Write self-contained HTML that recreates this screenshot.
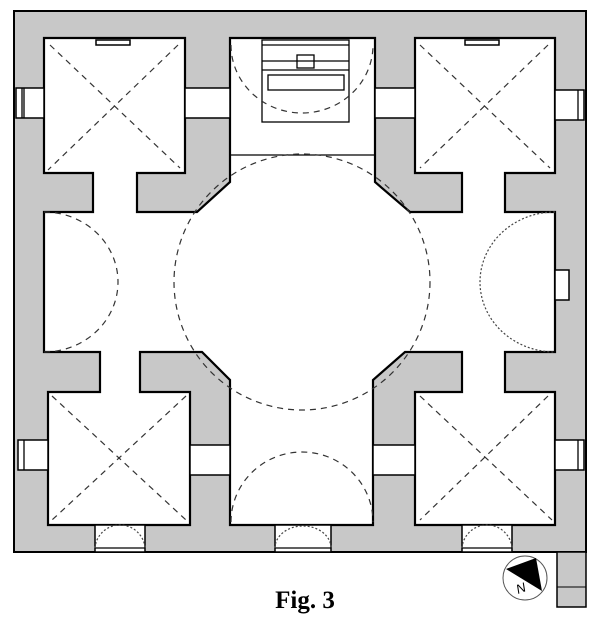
<!DOCTYPE html>
<html><head><style>body{margin:0;background:#fff}svg{display:block}</style></head><body>
<svg width="600" height="624" viewBox="0 0 600 624" xmlns="http://www.w3.org/2000/svg">
<rect width="600" height="624" fill="#fff"/>
<!-- walls -->
<rect x="14" y="11" width="572" height="541" fill="#c8c8c8" stroke="#000" stroke-width="2"/>
<rect x="557" y="552" width="29" height="55" fill="#c8c8c8" stroke="#000" stroke-width="1.5"/>
<line x1="557" y1="587" x2="586" y2="587" stroke="#000"/>
<g fill="#fff" stroke="#000" stroke-width="2.2" stroke-linejoin="miter">
<!-- main white shape -->
<path d="M44,38 H185 V173 H137 V212 H197 L230,182 V38 H375 V182 L410,212 H462 V173 H415 V38 H555 V173 H505 V212 H555 V352 H505 V392 H555 V525 H415 V392 H462 V352 H405 L373,380 V525 H230 V380 L202,352 H140 V392 H190 V525 H48 V392 H100 V352 H44 V212 H93 V173 H44 Z"/>
</g>
<g fill="#fff" stroke="#000" stroke-width="1.5">
<!-- windows -->
<rect x="185" y="88" width="45" height="30"/>
<rect x="375" y="88" width="40" height="30"/>
<rect x="190" y="445" width="40" height="30"/>
<rect x="373" y="445" width="42" height="30"/>
<rect x="16" y="88" width="28" height="30"/>
<rect x="555" y="90" width="29" height="30"/>
<rect x="18" y="440" width="30" height="30"/>
<rect x="555" y="440" width="29" height="30"/>
<rect x="555" y="270" width="14" height="30"/>
<rect x="95" y="525" width="50" height="27"/>
<rect x="275" y="525" width="56" height="27"/>
<rect x="462" y="525" width="50" height="27"/>
<rect x="96" y="40" width="34" height="5"/>
<rect x="465" y="40" width="34" height="5"/>
</g>
<g stroke="#000" stroke-width="1.3" fill="none">
<line x1="22" y1="88" x2="22" y2="118"/><line x1="24" y1="88" x2="24" y2="118"/>
<line x1="578" y1="90" x2="578" y2="120"/>
<line x1="24" y1="440" x2="24" y2="470"/>
<line x1="578" y1="440" x2="578" y2="470"/>
<line x1="95" y1="548" x2="145" y2="548"/><line x1="275" y1="548" x2="331" y2="548"/><line x1="462" y1="548" x2="512" y2="548"/>
<line x1="230" y1="155" x2="375" y2="155"/>
<!-- stair -->
<rect x="262" y="40" width="87" height="82"/>
<line x1="262" y1="45" x2="349" y2="45"/>
<line x1="262" y1="61" x2="349" y2="61"/>
<line x1="262" y1="70" x2="349" y2="70"/>
<rect x="297" y="55" width="17" height="13"/>
<rect x="268" y="75" width="76" height="15"/>
</g>
<g stroke="#333" stroke-width="1.2" fill="none" stroke-dasharray="6,5">
<line x1="50" y1="45" x2="180" y2="168"/><line x1="178" y1="45" x2="48" y2="170"/>
<line x1="420" y1="45" x2="550" y2="168"/><line x1="548" y1="45" x2="420" y2="168"/>
<line x1="52" y1="396" x2="186" y2="520"/><line x1="186" y1="396" x2="52" y2="520"/>
<line x1="420" y1="396" x2="552" y2="520"/><line x1="548" y1="396" x2="420" y2="520"/>
<circle cx="302" cy="282" r="128"/>
<path d="M44,212 A74,70 0 0 1 44,352"/>
<path d="M231,45 A71,68 0 0 0 373,45"/>
<path d="M231,522 A71,70 0 0 1 373,522"/>
</g>
<g stroke="#444" stroke-width="1.2" fill="none" stroke-dasharray="2,2">
<path d="M555,212 A75,70 0 0 0 555,352"/>
<path d="M95,548 A25,25 0 0 1 120,525 A25,25 0 0 1 145,548"/>
<path d="M275,548 A28,22 0 0 1 303,526 A28,22 0 0 1 331,548"/>
<path d="M462,548 A25,25 0 0 1 487,525 A25,25 0 0 1 512,548"/>
</g>
<!-- compass -->
<circle cx="525" cy="578" r="22" fill="#fff" stroke="#555" stroke-width="1"/>
<polygon points="506,569 536,558 542,591" fill="#000"/>
<text x="518" y="594" font-family="Liberation Sans, sans-serif" font-size="13" font-style="italic" transform="rotate(-20 518 594)">N</text>
<text x="305" y="608" text-anchor="middle" font-family="Liberation Serif, serif" font-weight="bold" font-size="25">Fig. 3</text>
</svg>
</body></html>
